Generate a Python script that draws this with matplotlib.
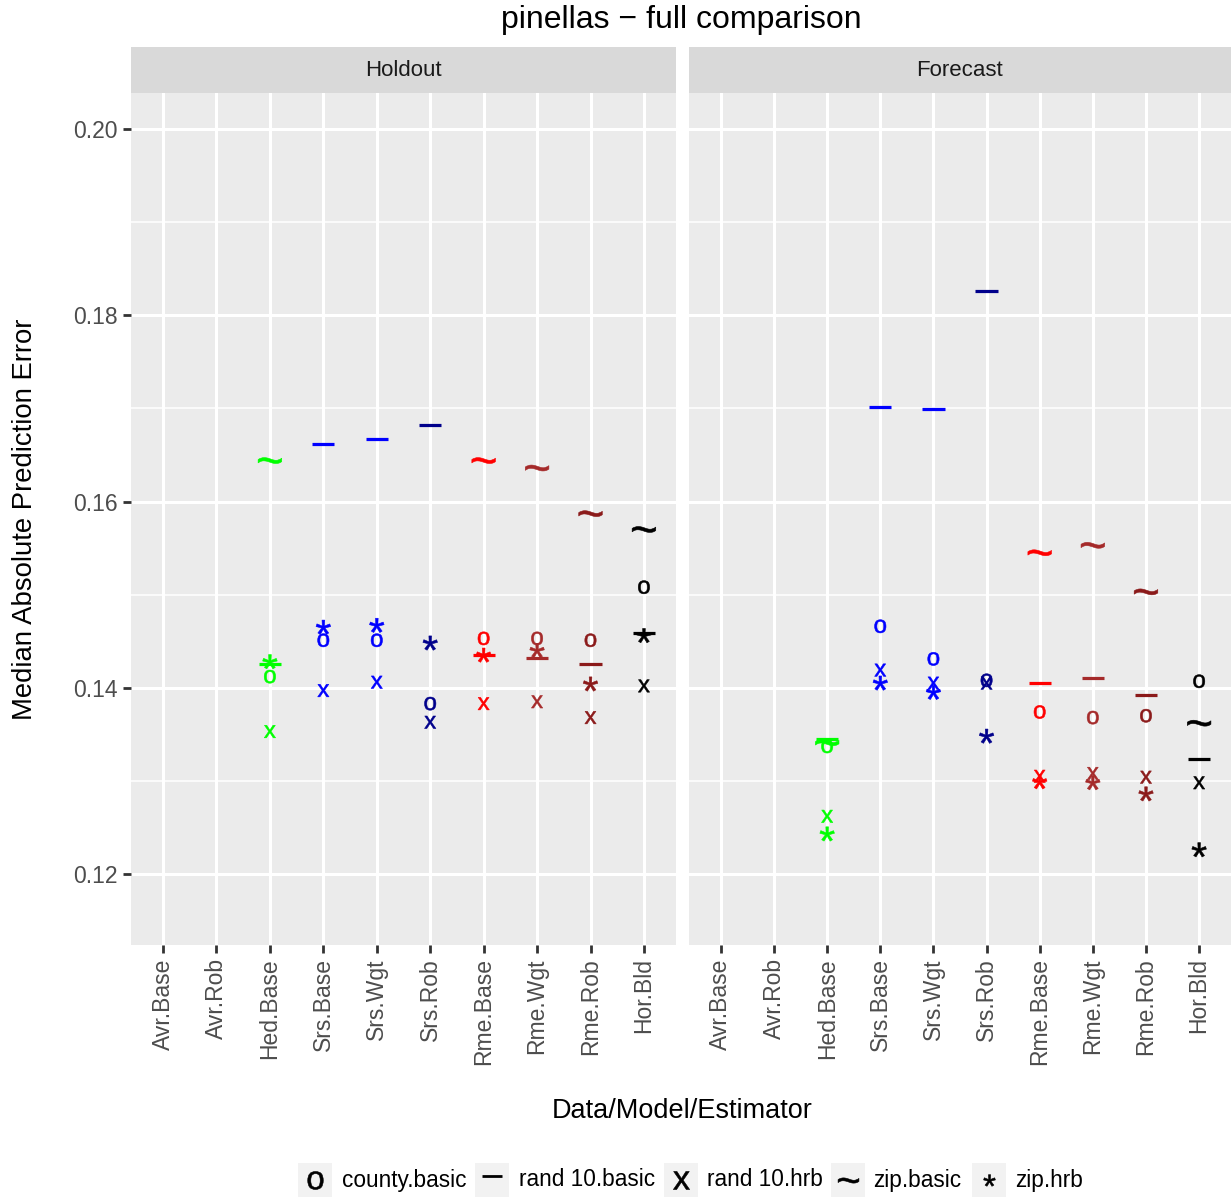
import numpy as np
import matplotlib
matplotlib.use("Agg")
import matplotlib.pyplot as plt
from matplotlib.font_manager import FontProperties
from matplotlib.lines import Line2D
from matplotlib.path import Path
from matplotlib.patches import Rectangle
from matplotlib.textpath import TextPath

plt.rcParams["font.family"] = ["Liberation Sans", "DejaVu Sans"]

nan = np.nan

categories = ["Avr.Base", "Avr.Rob", "Hed.Base", "Srs.Base", "Srs.Wgt",
              "Srs.Rob", "Rme.Base", "Rme.Wgt", "Rme.Rob", "Hor.Bld"]
category_colors = ["#000000", "#000000", "#00FF00", "#0000FF", "#0000FF",
                   "#00008B", "#FF0000", "#A52A2A", "#8B1A1A", "#000000"]
panels = ["Holdout", "Forecast"]
series = ["county.basic", "rand 10.basic", "rand 10.hrb", "zip.basic", "zip.hrb"]

# median absolute prediction error, one list per series, in category order
holdout_county_basic = [nan, nan, 0.1412, 0.1451, 0.1451, 0.1383, 0.1453, 0.1453, 0.1451, 0.1508]
holdout_rand10_basic = [nan, nan, 0.1426, 0.1662, 0.1667, 0.1682, 0.1435, 0.1432, 0.1426, 0.1459]
holdout_rand10_hrb = [nan, nan, 0.1353, 0.1397, 0.1406, 0.1363, 0.1383, 0.1385, 0.1368, 0.1402]
holdout_zip_basic = [nan, nan, 0.1644, nan, nan, nan, 0.1644, 0.1636, 0.1587, 0.1570]
holdout_zip_hrb = [nan, nan, 0.1428, 0.1465, 0.1467, 0.1448, 0.1435, 0.1440, 0.1404, 0.1456]

forecast_county_basic = [nan, nan, 0.1337, 0.1466, 0.1431, 0.1408, 0.1374, 0.1368, 0.1370, 0.1407]
forecast_rand10_basic = [nan, nan, 0.1345, 0.1701, 0.1699, 0.1826, 0.1405, 0.1411, 0.1392, 0.1323]
forecast_rand10_hrb = [nan, nan, 0.1262, 0.1419, 0.1405, 0.1405, 0.1305, 0.1308, 0.1304, 0.1298]
forecast_zip_basic = [nan, nan, 0.1341, nan, nan, nan, 0.1545, 0.1553, 0.1503, 0.1362]
forecast_zip_hrb = [nan, nan, 0.1243, 0.1405, 0.1395, 0.1348, 0.1299, 0.1298, 0.1286, 0.1226]

panel_data = {
    "Holdout": [holdout_county_basic, holdout_rand10_basic, holdout_rand10_hrb,
                holdout_zip_basic, holdout_zip_hrb],
    "Forecast": [forecast_county_basic, forecast_rand10_basic, forecast_rand10_hrb,
                 forecast_zip_basic, forecast_zip_hrb],
}


def glyph(ch):
    # character outline centred on its own bounding box, usable as a marker
    tp = TextPath((0, 0), ch, size=10, prop=FontProperties(family="Liberation Sans"))
    v = tp.vertices.copy()
    codes = tp.codes
    keep = codes != Path.CLOSEPOLY
    centre = (v[keep].min(axis=0) + v[keep].max(axis=0)) / 2
    v[~keep] = centre
    return Path(v - centre, codes)


shapes = [glyph("o"), "_", glyph("x"), glyph("~"), glyph("*")]
sizes = [9.5, 16, 9, 17, 10.5]

W, H = 1231, 1198
fig = plt.figure(figsize=(W / 100, H / 100), dpi=100)

panel_px = [(131, 676), (689, 1231)]
top_px, bottom_px, strip_px = 93, 945, 47
x = np.arange(1, len(categories) + 1)

for i, (name, (x0, x1)) in enumerate(zip(panels, panel_px)):
    ax = fig.add_axes([x0 / W, 1 - bottom_px / H, (x1 - x0) / W, (bottom_px - top_px) / H])
    ax.set_facecolor("#EBEBEB")
    for s in ax.spines.values():
        s.set_visible(False)
    ax.set_xlim(0.4, 10.6)
    ax.set_ylim(0.11238, 0.20387)
    ax.set_yticks([0.12, 0.14, 0.16, 0.18, 0.20])
    ax.set_yticks([0.13, 0.15, 0.17, 0.19], minor=True)
    ax.set_xticks(x)
    ax.set_xticklabels(categories, rotation=90, ha="center", va="top")
    ax.grid(which="major", color="white", linewidth=2.2)
    ax.grid(which="minor", axis="y", color="white", linewidth=1.1)
    ax.set_axisbelow(True)
    ax.tick_params(axis="both", which="major", length=5.5, width=2.0, color="#333333",
                   labelsize=16.5, labelcolor="#4D4D4D", pad=4)
    ax.tick_params(axis="y", which="minor", length=0)
    if i == 0:
        ax.set_yticklabels(["0.12", "0.14", "0.16", "0.18", "0.20"])
    else:
        ax.tick_params(axis="y", which="both", left=False, labelleft=False)

    for vals, shape, ms in zip(panel_data[name], shapes, sizes):
        vals = np.asarray(vals, dtype=float)
        ok = ~np.isnan(vals)
        cols = [c for c, k in zip(category_colors, ok) if k]
        if shape == "_":
            ax.scatter(x[ok], vals[ok], marker=shape, s=ms ** 2, c=cols, linewidths=2.3, zorder=3)
        else:
            ax.scatter(x[ok], vals[ok], marker=shape, s=ms ** 2, c=cols, edgecolors=cols,
                       linewidths=0.4, zorder=3)

    # facet strip
    sax = fig.add_axes([x0 / W, 1 - top_px / H, (x1 - x0) / W, (top_px - strip_px) / H])
    sax.set_facecolor("#D9D9D9")
    sax.set_xticks([])
    sax.set_yticks([])
    for s in sax.spines.values():
        s.set_visible(False)
    sax.text(0.5, 0.5, name, ha="center", va="center", fontsize=16, color="#1A1A1A",
             transform=sax.transAxes)

fig.text(681 / W, 1 - 20 / H, "pinellas \u2212 full comparison", ha="center", va="center",
         fontsize=23, color="black")
fig.text(682 / W, 1 - 1111 / H, "Data/Model/Estimator", ha="center", va="center",
         fontsize=19.5, color="black")
fig.text(25 / W, 1 - 519 / H, "Median Absolute Prediction Error", ha="center", va="center",
         rotation=90, fontsize=19.8, color="black")

# legend along the bottom
key_centres = [315, 492, 681, 848, 989]
label_starts = [342, 519, 707, 873, 1015]
legend_sizes = [13, 14, 13, 15, 8.5]
key_y = 1180
for xc, lx, label, shape, ms in zip(key_centres, label_starts, series, shapes, legend_sizes):
    fig.patches.append(Rectangle(((xc - 17) / W, 1 - (key_y + 17) / H), 34 / W, 34 / H,
                                 transform=fig.transFigure, facecolor="#F2F2F2",
                                 edgecolor="none"))
    yk = key_y - 4 if shape == "_" else key_y
    fig.add_artist(Line2D([xc / W], [1 - yk / H], marker=shape, markersize=ms,
                          color="black", markeredgewidth=2.0 if shape == "_" else 0.4,
                          linestyle="none", transform=fig.transFigure))
    fig.text(lx / W, 1 - key_y / H, label, ha="left", va="center", fontsize=16.3, color="black")

fig.savefig("out.png", dpi=100)
